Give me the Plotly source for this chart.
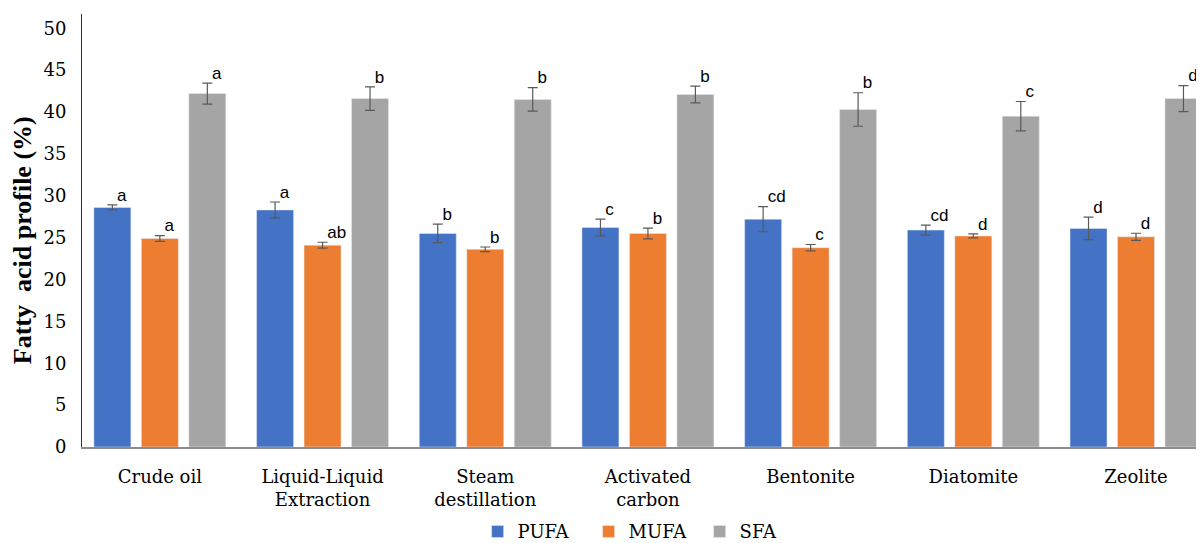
import plotly.graph_objects as go

categories = ["Crude oil", "Liquid-Liquid<br>Extraction", "Steam<br>destillation",
              "Activated<br>carbon", "Bentonite", "Diatomite", "Zeolite"]

pufa = [28.6, 28.3, 25.5, 26.2, 27.2, 25.9, 26.1]
mufa = [24.9, 24.1, 23.6, 25.5, 23.8, 25.2, 25.1]
sfa = [42.2, 41.6, 41.5, 42.1, 40.3, 39.5, 41.6]

pufa_err = [0.3, 0.95, 1.1, 1.0, 1.5, 0.6, 1.35]
mufa_err = [0.35, 0.35, 0.28, 0.64, 0.38, 0.24, 0.42]
sfa_err = [1.25, 1.4, 1.4, 1.0, 2.0, 1.75, 1.55]

pufa_lbl = ["a", "a", "b", "c", "cd", "cd", "d"]
mufa_lbl = ["a", "ab", "b", "b", "c", "d", "d"]
sfa_lbl = ["a", "b", "b", "b", "b", "c", "d"]

series = [
    ("PUFA", pufa, pufa_err, pufa_lbl, "#4472C4"),
    ("MUFA", mufa, mufa_err, mufa_lbl, "#ED7D31"),
    ("SFA", sfa, sfa_err, sfa_lbl, "#A5A5A5"),
]

SERIF = "DejaVu Serif"
fig = go.Figure()
for i, (name, vals, errs, lbls, col) in enumerate(series):
    fig.add_trace(go.Bar(
        x=categories, y=vals, name=name, marker_color=col,
        offsetgroup=str(i),
        error_y=dict(type="data", array=errs, visible=True,
                     color="#595959", thickness=1.2, width=5),
    ))
for i, (name, vals, errs, lbls, col) in enumerate(series):
    fig.add_trace(go.Scatter(
        x=categories, y=[v + e for v, e in zip(vals, errs)],
        mode="text", text=["\u00a0" + t for t in lbls], textposition="top right",
        textfont=dict(family="Liberation Sans", size=17, color="#000"),
        offsetgroup=str(i), showlegend=False, cliponaxis=False,
        hoverinfo="skip",
    ))

fig.update_layout(
    width=1204, height=543,
    margin=dict(l=73.5, r=8, t=6, b=104, autoexpand=False),
    plot_bgcolor="white", paper_bgcolor="white",
    barmode="group", scattermode="group",
    bargap=0.1245, bargroupgap=0.221,
    showlegend=True,
    legend=dict(orientation="h", x=0.501, xanchor="center",
                y=-0.153, yanchor="top",
                entrywidth=66, entrywidthmode="pixels",
                font=dict(family=SERIF, size=18, color="#000"),
                traceorder="normal"),
    font=dict(family=SERIF, size=18, color="#000"),
)
fig.update_xaxes(
    type="category", range=[-0.4786, 6.418], automargin=False,
    showline=True, linecolor="#8c8c8c", linewidth=2,
    ticks="outside", ticklen=12, tickcolor="rgba(0,0,0,0)",
    tickfont=dict(family=SERIF, size=18, color="#000"),
    showgrid=False, zeroline=False,
)
fig.update_yaxes(
    range=[0, 51.7], tickvals=list(range(0, 51, 5)), automargin=False,
    showline=True, linecolor="#333", linewidth=1,
    ticks="outside", ticklen=11, tickcolor="rgba(0,0,0,0)",
    tickfont=dict(family=SERIF, size=18, color="#000"),
    showgrid=False, zeroline=False,
    title=dict(text="<b>Fatty\u00a0 acid profile (%)\u00a0\u00a0\u00a0</b>",
               font=dict(family="Liberation Serif", size=26, color="#000"), standoff=4),
)

fig.write_html("out.html")
